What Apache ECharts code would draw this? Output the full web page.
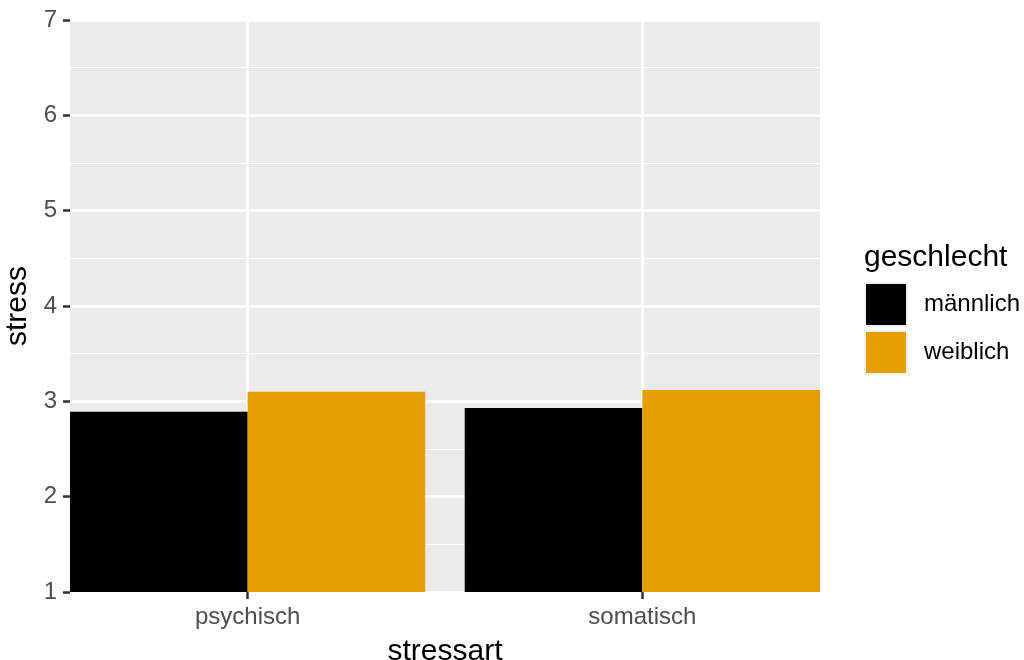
<!DOCTYPE html>
<html>
<head>
<meta charset="utf-8">
<script src="https://cdn.jsdelivr.net/npm/echarts@6/dist/echarts.min.js"></script>
<style>
  html, body { margin: 0; padding: 0; background: #fff; }
  #chart { width: 1024px; height: 660px; }
</style>
</head>
<body>
<div id="chart"></div>
<script>
// Mean stress by type of stress and gender
const categories = ['psychisch', 'somatisch'];
const genders = ['männlich', 'weiblich'];
const maleStress = [2.89, 2.93];
const femaleStress = [3.10, 3.12];
const yTicks = [1, 2, 3, 4, 5, 6, 7];

const FONT = '"Liberation Sans", Arial, Helvetica, sans-serif';
const colors = ['#000000', '#E69F00'];

// categories sit at x = 1, 2 on a numeric axis so the panel can stop at the bar edges
const positions = categories.map((c, i) => i + 1);
const toPoints = vals => vals.map((v, i) => [positions[i], v]);

const chart = echarts.init(document.getElementById('chart'), null, { renderer: 'canvas' });

chart.setOption({
  animation: false,
  backgroundColor: '#ffffff',
  textStyle: { fontFamily: FONT },
  grid: {
    left: 70, right: 204, top: 20, bottom: 68,
    containLabel: false,
    outerBoundsMode: 'none',
    show: true, backgroundColor: '#EBEBEB', borderWidth: 0
  },
  title: {
    text: 'geschlecht',
    left: 864, top: 243, padding: 0,
    textStyle: { fontFamily: FONT, fontSize: 30, fontWeight: 'normal', color: '#000000' }
  },
  legend: {
    orient: 'vertical',
    left: 864, top: 282, padding: 0,
    itemWidth: 42, itemHeight: 43, itemGap: 3,
    icon: 'rect',
    data: genders,
    itemStyle: { borderColor: '#F2F2F2', borderWidth: 2 },
    textStyle: { fontFamily: FONT, fontSize: 24, color: '#000000', padding: [0, 0, 0, 12] }
  },
  xAxis: {
    type: 'value',
    min: 0.55, max: 2.45,
    name: 'stressart',
    nameLocation: 'middle',
    nameGap: 45,
    nameTextStyle: { fontFamily: FONT, fontSize: 30, color: '#000000' },
    axisLine: { show: false },
    axisTick: { show: true, length: 7, customValues: positions, lineStyle: { color: '#333333', width: 2.5 } },
    axisLabel: {
      customValues: positions,
      margin: 13,
      fontFamily: FONT, fontSize: 24, color: '#4D4D4D',
      formatter: v => categories[Math.round(v) - 1] || ''
    },
    splitLine: { show: true, lineStyle: { color: '#FFFFFF', width: 2.5 } }
  },
  yAxis: {
    type: 'value',
    min: 1, max: 7, interval: 1,
    name: 'stress',
    nameLocation: 'middle',
    nameGap: 33,
    nameRotate: 90,
    nameTextStyle: { fontFamily: FONT, fontSize: 30, color: '#000000' },
    axisLine: { show: false },
    axisTick: { show: true, length: 7, lineStyle: { color: '#333333', width: 2.5 } },
    axisLabel: {
      margin: 13,
      fontFamily: FONT, fontSize: 24, color: '#4D4D4D',
      formatter: v => (yTicks.indexOf(v) >= 0 ? String(v) : '')
    },
    splitLine: { show: true, lineStyle: { color: '#FFFFFF', width: 2.5 } },
    minorTick: { show: false, splitNumber: 2 },
    minorSplitLine: { show: true, lineStyle: { color: '#FFFFFF', width: 1.2 } }
  },
  series: [
    {
      name: genders[0], type: 'bar',
      data: toPoints(maleStress),
      barGap: '0%', barCategoryGap: '10%',
      itemStyle: { color: colors[0] }
    },
    {
      name: genders[1], type: 'bar',
      data: toPoints(femaleStress),
      barGap: '0%', barCategoryGap: '10%',
      itemStyle: { color: colors[1] }
    }
  ]
});
</script>
</body>
</html>
